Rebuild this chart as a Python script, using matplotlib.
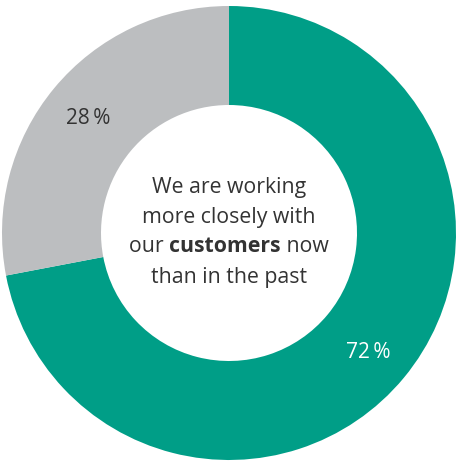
import matplotlib.pyplot as plt
from matplotlib.offsetbox import TextArea, HPacker, AnnotationBbox

plt.rcParams['font.family'] = ['Open Sans', 'DejaVu Sans']

# share of respondents
shares = [72, 28]
share_labels = ['72\u2009%', '28\u2009%']
colors = ['#009e87', '#bcbec0']
label_colors = ['white', '#333333']

W, H = 457, 462
cx, cy = 229, 233          # donut centre, pixels from top-left
r_out, r_in = 227, 128

fig = plt.figure(figsize=(W / 100, H / 100), dpi=100)
ax = fig.add_axes([0, 0, 1, 1])

ax.pie(shares, colors=colors, startangle=90, counterclock=False,
       radius=r_out, center=(0, 0), frame=True,
       wedgeprops=dict(width=r_out - r_in, linewidth=0))
ax.set_xlim(-cx, W - cx)
ax.set_ylim(-(H - cy), cy)
ax.set_aspect('equal')
ax.axis('off')

# value labels placed inside the ring
label_pos = [(368 - cx, cy - 352), (88 - cx, cy - 118)]
for (x, y), txt, c in zip(label_pos, share_labels, label_colors):
    ax.text(x, y, txt, ha='center', va='center', fontsize=15, color=c)

fs = 15.3
tc = '#333333'
ax.text(0, cy - 187, 'We are working', ha='center', va='center', fontsize=fs, color=tc)
ax.text(0, cy - 217, 'more closely with', ha='center', va='center', fontsize=fs, color=tc)
ax.text(0, cy - 277, 'than in the past', ha='center', va='center', fontsize=fs, color=tc)

parts = [TextArea('our ', textprops=dict(fontsize=fs, color=tc)),
         TextArea('customers', textprops=dict(fontsize=fs, color=tc, fontweight='bold')),
         TextArea(' now', textprops=dict(fontsize=fs, color=tc))]
row = HPacker(children=parts, pad=0, sep=0, align='baseline')
ab = AnnotationBbox(row, (0, cy - 247), frameon=False, box_alignment=(0.5, 0.5), pad=0)
ax.add_artist(ab)

fig.savefig('out.png', dpi=100)
